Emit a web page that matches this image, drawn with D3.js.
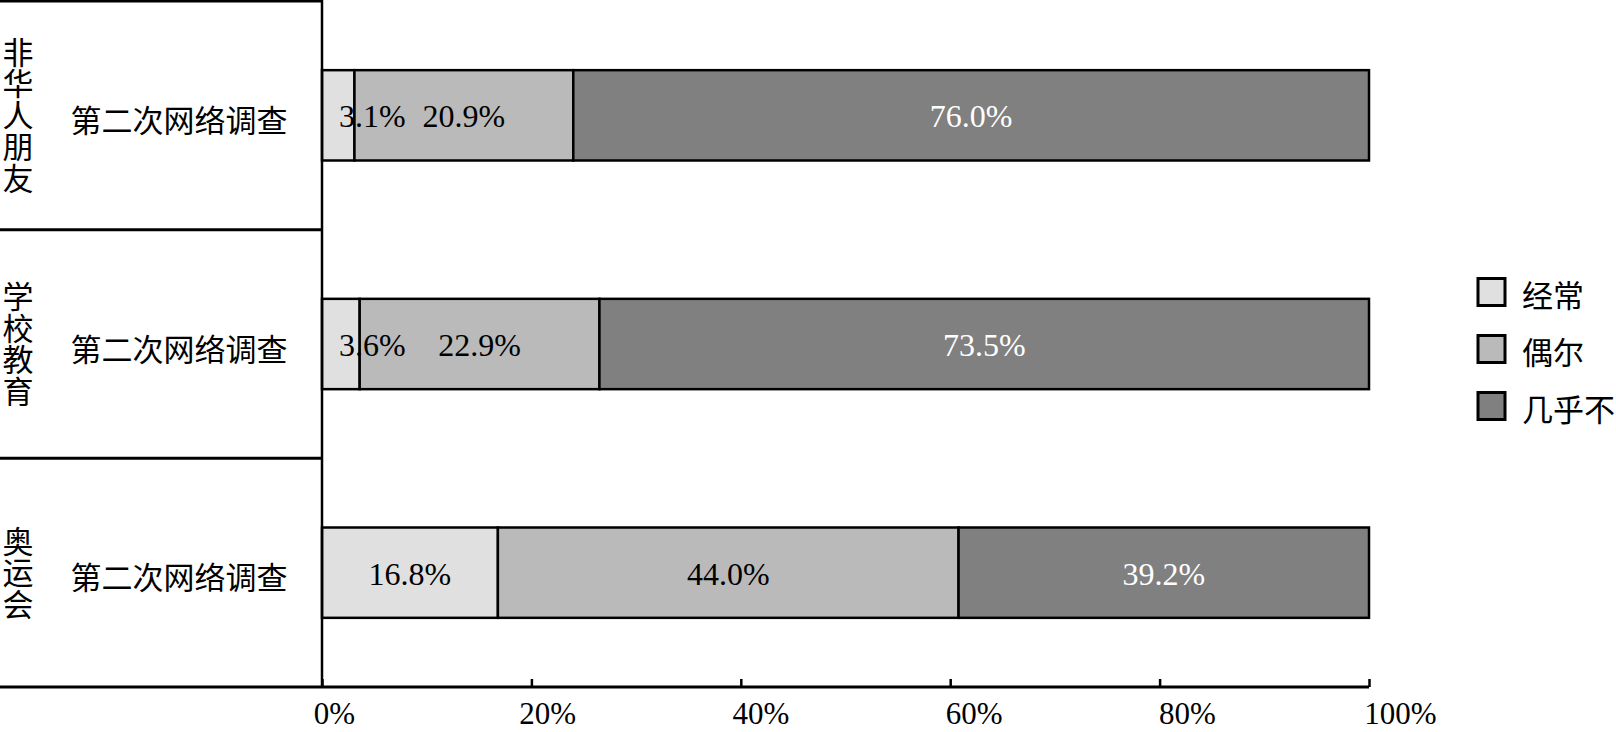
<!DOCTYPE html>
<html>
<head>
<meta charset="utf-8">
<script src="https://cdn.jsdelivr.net/npm/d3@7"></script>
<style>
  html, body { margin: 0; padding: 0; background: #ffffff; }
  svg { display: block; }
</style>
</head>
<body>
<svg id="chart" width="1616" height="732"></svg>
<script>
// ---- data ----
const groups = ["非华人朋友", "学校教育", "奥运会"];
const subLabels = ["第二次网络调查", "第二次网络调查", "第二次网络调查"];
const seriesNames = ["经常", "偶尔", "几乎不"];
const often = [3.1, 3.6, 16.8];
const sometimes = [20.9, 22.9, 44.0];
const rarely = [76.0, 73.5, 39.2];
const tickValues = [0, 20, 40, 60, 80, 100];
const tickLabels = ["0%", "20%", "40%", "60%", "80%", "100%"];

// ---- styles ----
const fills = ["#e0e0e0", "#bababa", "#808080"];
const labelColors = ["#000000", "#000000", "#ffffff"];
const latinFont = "'Liberation Serif', 'Times New Roman', serif";
const cjkFont = "'Noto Sans CJK SC', 'Noto Sans CJK JP', sans-serif";

const svg = d3.select("#chart");

const axisX0 = 322, axisX1 = 1369, axisY = 687, topY = 1;

const x = d3.scaleLinear().domain([0, 100]).range([axisX0, axisX1]);
// tick labels in the reference drift slightly right of their ticks
const xLabel = d3.scaleLinear().domain([0, 100]).range([334, 1400]);
const yBand = d3.scaleBand().domain(groups).range([topY, axisY]).padding(0);
const barRatio = 0.395;

const seriesValues = [often, sometimes, rarely];
const rows = groups.map((g, i) => {
  let acc = 0;
  const segs = seriesValues.map((arr, s) => {
    const seg = { group: g, s, v: arr[i], x0: acc, x1: acc + arr[i] };
    acc += arr[i];
    return seg;
  });
  return { group: g, sub: subLabels[i], segs };
});

// ---- left header lines ----
const lines = svg.append("g").attr("stroke", "#000").attr("stroke-width", 3);
lines.append("line").attr("x1", 0).attr("x2", axisX0).attr("y1", topY).attr("y2", topY);
groups.slice(1).forEach(g => {
  lines.append("line").attr("x1", 0).attr("x2", axisX0)
    .attr("y1", yBand(g)).attr("y2", yBand(g));
});

// ---- bars ----
const bw = yBand.bandwidth();
const barH = bw * barRatio;
const rowG = svg.selectAll("g.row").data(rows).join("g").attr("class", "row")
  .attr("transform", d => `translate(0,${yBand(d.group) + (bw - barH) / 2})`);

rowG.selectAll("rect").data(d => d.segs).join("rect")
  .attr("x", d => x(d.x0))
  .attr("y", 0)
  .attr("width", d => x(d.x1) - x(d.x0))
  .attr("height", barH)
  .attr("fill", d => fills[d.s])
  .attr("stroke", "#000")
  .attr("stroke-width", 2.5);

rowG.selectAll("text.val").data(d => d.segs).join("text").attr("class", "val")
  .attr("font-family", latinFont)
  .attr("font-size", 32)
  .attr("fill", d => labelColors[d.s])
  .attr("dominant-baseline", "central")
  .attr("y", barH / 2 + 1)
  .each(function(d) {
    const t = d3.select(this).text(d.v.toFixed(1) + "%");
    const w = this.getComputedTextLength();
    const segW = x(d.x1) - x(d.x0);
    if (w > segW) {
      t.attr("text-anchor", "start").attr("x", x(d.x0) + 17);
    } else {
      t.attr("text-anchor", "middle").attr("x", (x(d.x0) + x(d.x1)) / 2);
    }
  });

// ---- category labels ----
const catG = svg.selectAll("g.cat").data(rows).join("g").attr("class", "cat");
catG.append("text")
  .attr("x", 179)
  .attr("y", d => yBand(d.group) + bw / 2 + 3)
  .attr("text-anchor", "middle")
  .attr("dominant-baseline", "central")
  .attr("font-family", cjkFont)
  .attr("font-size", 31)
  .attr("fill", "#000")
  .text(d => d.sub);

// vertical group names (vertical writing mode, one text element each)
catG.append("text")
  .attr("x", 18)
  .attr("y", d => yBand(d.group) + bw / 2)
  .attr("text-anchor", "middle")
  .style("writing-mode", "vertical-rl")
  .style("text-orientation", "upright")
  .style("letter-spacing", "0.5px")
  .attr("font-family", cjkFont)
  .attr("font-size", 31)
  .attr("fill", "#000")
  .text(d => d.group);

// ---- axes ----
const xAxis = d3.axisBottom(x)
  .tickValues(tickValues)
  .tickFormat((v, i) => tickLabels[i])
  .tickSizeInner(-8)
  .tickSizeOuter(0)
  .tickPadding(15);

const ax = svg.append("g").attr("transform", `translate(0,${axisY})`).call(xAxis);
ax.select(".domain").remove();
ax.selectAll(".tick line").attr("stroke", "#000").attr("stroke-width", 2.5);
ax.selectAll(".tick text")
  .attr("font-family", latinFont)
  .attr("font-size", 31)
  .attr("fill", "#000")
  .attr("dx", v => xLabel(v) - x(v));

// baseline across the whole width and vertical axis
svg.append("line").attr("x1", 0).attr("x2", axisX1).attr("y1", axisY).attr("y2", axisY)
  .attr("stroke", "#000").attr("stroke-width", 3);
svg.append("line").attr("x1", axisX0).attr("x2", axisX0).attr("y1", 0).attr("y2", axisY)
  .attr("stroke", "#000").attr("stroke-width", 2.5);

// ---- legend ----
const legendY = d3.scalePoint().domain(seriesNames).range([292, 406]);
const lg = svg.selectAll("g.leg").data(seriesNames).join("g").attr("class", "leg")
  .attr("transform", d => `translate(1478,${legendY(d)})`);
lg.append("rect")
  .attr("x", 0).attr("y", -13.5).attr("width", 27).attr("height", 27)
  .attr("fill", (d, i) => fills[i])
  .attr("stroke", "#000").attr("stroke-width", 3);
lg.append("text")
  .attr("x", 44).attr("y", 1)
  .attr("dominant-baseline", "central")
  .attr("font-family", cjkFont)
  .attr("font-size", 31)
  .attr("fill", "#000")
  .text(d => d);
</script>
</body>
</html>
